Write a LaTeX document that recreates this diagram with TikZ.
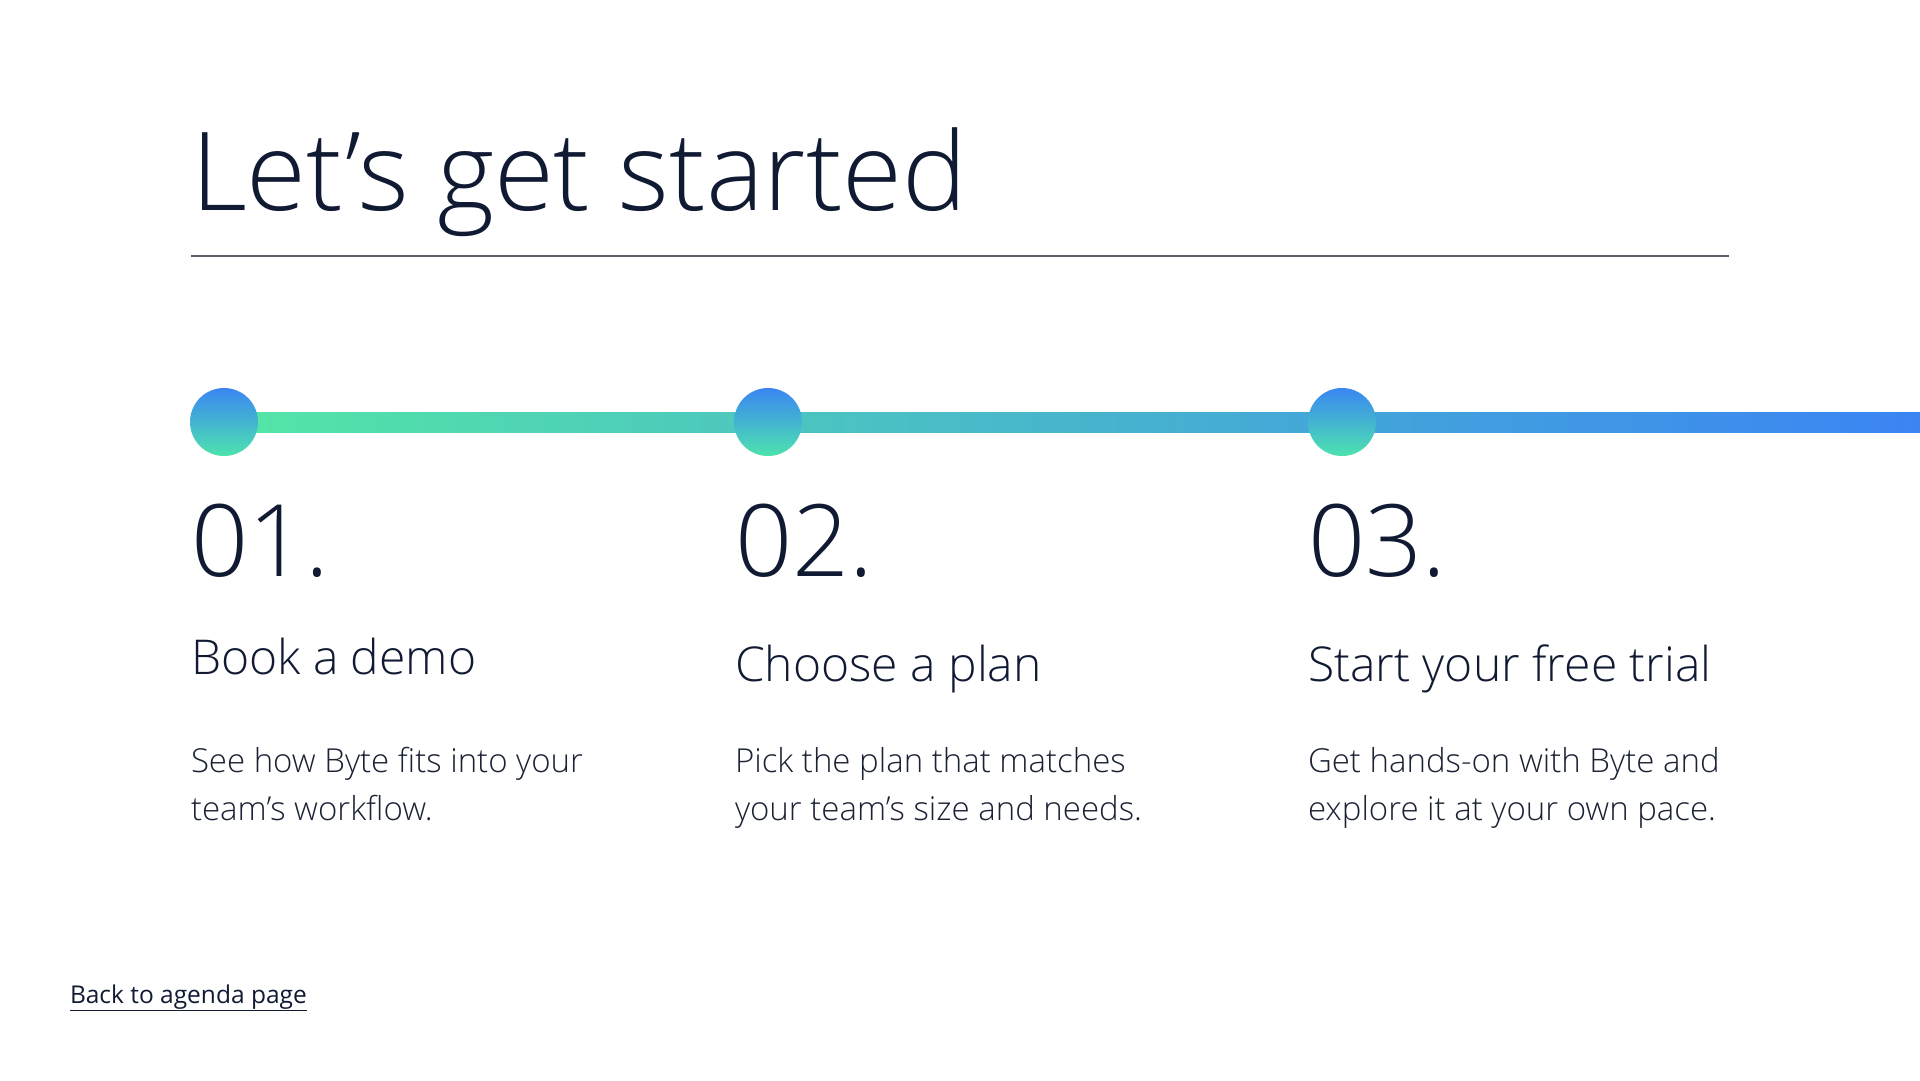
\documentclass[tikz,border=0pt]{standalone}
\usepackage{fontspec}
\setmainfont{Open Sans}[UprightFont={* Light}]
\newfontfamily\regfont{Open Sans}
\definecolor{ink}{HTML}{111A33}
\definecolor{inksoft}{HTML}{1A2234}
\definecolor{rulegray}{HTML}{5A5E66}
\definecolor{lineL}{HTML}{54E6A6}
\definecolor{lineR}{HTML}{3B84F4}
\definecolor{circT}{HTML}{3A86F2}
\definecolor{circB}{HTML}{4DE3AE}
\begin{document}
\begin{tikzpicture}[x=1pt,y=1pt,
  txt/.style={anchor=base west,inner sep=0pt,outer sep=0pt,text=ink},
  titlefont/.style={font=\fontsize{109}{120}\selectfont},
  numfont/.style={font=\fontsize{100}{110}\selectfont},
  headfont/.style={font=\fontsize{48}{56}\selectfont},
  descfont/.style={font=\fontsize{33}{40}\selectfont,text=inksoft},
  linkfont/.style={font=\regfont\fontsize{24.5}{30}\selectfont},
  dot/.style={circle,minimum size=68pt,inner sep=0pt,top color=circT,bottom color=circB,draw=none}]
\useasboundingbox[fill=white] (0,0) rectangle (1920,-1080);
% title and rule
\node[txt,titlefont] (title) at (191,-210) {Let’s get started};
\coordinate (rA) at (191,-256);
\coordinate (rB) at (1729,-256);
\draw[rulegray,line width=1.5pt] (rA) -- (rB);
% timeline
\shade[left color=lineL,right color=lineR] (224,-412) rectangle (1920,-432);
\node[dot] (c1) at (224,-422) {};
\node[dot] (c2) at (768,-422) {};
\node[dot] (c3) at (1342,-422) {};
% numbers
\node[txt,numfont] (n1) at (191,-576) {01.};
\node[txt,numfont] (n2) at (735,-576) {02.};
\node[txt,numfont] (n3) at (1308,-576) {03.};
% step titles
\node[txt,headfont] (h1) at (191,-674) {Book a demo};
\node[txt,headfont] (h2) at (735,-681) {Choose a plan};
\node[txt,headfont] (h3) at (1308,-681) {Start your free trial};
% descriptions
\node[txt,descfont] (d1a) at (191,-772) {See how Byte fits into your};
\node[txt,descfont] (d1b) at (191,-820) {team’s workflow.};
\node[txt,descfont] (d2a) at (735,-772) {Pick the plan that matches};
\node[txt,descfont] (d2b) at (735,-820) {your team’s size and needs.};
\node[txt,descfont] (d3a) at (1308,-772) {Get hands-on with Byte and};
\node[txt,descfont] (d3b) at (1308,-820) {explore it at your own pace.};
% back link
\node[txt,linkfont] (back) at (70,-1003) {\underline{Back to agenda page}};
\end{tikzpicture}
\end{document}
